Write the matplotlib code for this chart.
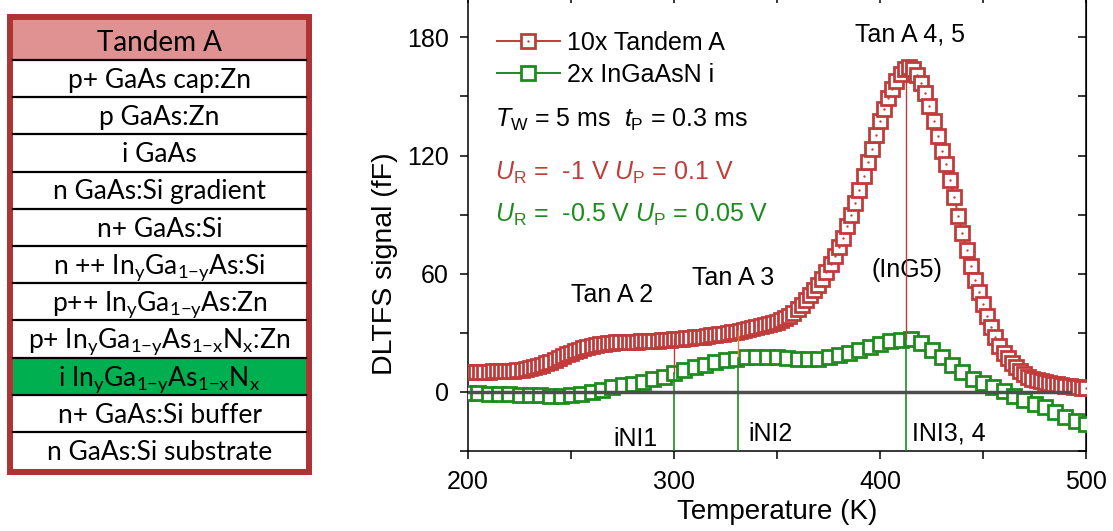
import numpy as np
import matplotlib.pyplot as plt
from matplotlib.lines import Line2D
from matplotlib.patches import Rectangle
from matplotlib.ticker import MultipleLocator

plt.rcParams["font.family"] = ["Liberation Sans", "DejaVu Sans"]
plt.rcParams["mathtext.fontset"] = "custom"
plt.rcParams["mathtext.rm"] = "Liberation Sans"
plt.rcParams["mathtext.it"] = "Liberation Sans:italic"
plt.rcParams["mathtext.bf"] = "Liberation Sans:bold"

RED = "#C23B3B"
GREEN = "#1C8C1C"
BORDER = "#AE3333"

# DLTFS spectra (fF), already scaled by 10x and 2x
temp_tandem = np.arange(200, 501, 2)
dltfs_tandem = np.array([
    10.3, 10.3, 10.3, 10.3, 10.3, 10.3, 10.4, 10.4, 10.5, 10.5,
    10.6, 10.8, 11.0, 11.3, 11.6, 12.0, 12.5, 13.1, 13.8, 14.6,
    15.4, 16.3, 17.2, 18.1, 19.0, 19.9, 20.7, 21.5, 22.2, 22.8,
    23.3, 23.8, 24.2, 24.5, 24.8, 25.0, 25.1, 25.2, 25.3, 25.3,
    25.4, 25.5, 25.6, 25.7, 25.8, 25.9, 26.0, 26.1, 26.3, 26.5,
    26.7, 26.9, 27.1, 27.3, 27.5, 27.7, 27.9, 28.1, 28.4, 28.7,
    29.0, 29.3, 29.6, 29.9, 30.2, 30.6, 31.0, 31.4, 31.8, 32.3,
    32.8, 33.3, 33.8, 34.3, 34.9, 35.5, 36.3, 37.3, 38.5, 40.0,
    42.0, 44.2, 46.5, 49.0, 51.5, 54.5, 57.5, 61.0, 65.0, 69.0,
    73.5, 78.0, 84.0, 90.0, 96.0, 102.5, 109.5, 116.5, 123.5, 130.5,
    137.5, 143.5, 149.0, 154.0, 158.0, 161.5, 164.0, 165.0, 164.0, 161.0,
    157.0, 152.0, 145.0, 137.5, 130.0, 122.5, 115.5, 107.5, 99.0, 89.5,
    80.5, 72.0, 64.0, 57.0, 50.5, 44.5, 38.5, 33.0, 28.0, 23.5,
    20.0, 17.0, 14.7, 12.5, 10.5, 9.0, 7.8, 6.8, 6.0, 5.4,
    4.9, 4.5, 4.1, 3.8, 3.5, 3.2, 2.9, 2.6, 2.4, 2.1,
    2.0,
])

temp_ingaasn = np.arange(200, 501, 5)
dltfs_ingaasn = np.array([
    -0.5, -0.7, -0.9, -1.0, -1.2, -1.4, -1.5, -1.7, -1.9, -2.0,
    -1.8, -1.1, 0.0, 1.2, 2.4, 3.3, 4.1, 5.1, 6.3, 7.8,
    9.4, 11.0, 12.5, 13.8, 15.0, 16.0, 16.9, 17.5, 17.8, 17.8,
    17.6, 17.2, 16.8, 16.6, 16.8, 17.5, 18.6, 19.9, 21.4, 23.0,
    24.5, 25.7, 26.5, 26.8, 25.0, 21.5, 17.5, 13.5, 10.0, 6.8,
    4.3, 2.3, 0.3, -2.0, -4.2, -6.0, -7.8, -10.3, -12.8, -15.0,
    -16.5,
])

# defect levels marked by drop lines (K)
trap_temps = [300, 331, 412.5]
trap_upper_colors = [RED, "#D9822B", RED]

layer_names = [
    "Tandem A",
    "p+ GaAs cap:Zn",
    "p GaAs:Zn",
    "i GaAs",
    "n GaAs:Si gradient",
    "n+ GaAs:Si",
    r"n ++ In$_{\mathdefault{y}}$Ga$_{\mathdefault{1{-}y}}$As:Si",
    r"p++ In$_{\mathdefault{y}}$Ga$_{\mathdefault{1{-}y}}$As:Zn",
    r"p+ In$_{\mathdefault{y}}$Ga$_{\mathdefault{1{-}y}}$As$_{\mathdefault{1{-}x}}$N$_{\mathdefault{x}}$:Zn",
    r"i In$_{\mathdefault{y}}$Ga$_{\mathdefault{1{-}y}}$As$_{\mathdefault{1{-}x}}$N$_{\mathdefault{x}}$",
    "n+ GaAs:Si buffer",
    "n GaAs:Si substrate",
]
layer_fills = ["#E09292"] + ["white"] * 8 + ["#00B050"] + ["white"] * 2

W, H = 1113, 531
fig = plt.figure(figsize=(W / 100, H / 100), dpi=100)

# ---- layer stack sketch ----
panel = fig.add_axes([0, 0, 1, 1])
panel.set_xlim(0, W)
panel.set_ylim(H, 0)
panel.axis("off")
stack_x0, stack_x1 = 13, 306
header_h, row_h = 40, 37.2
y = 20
for i, (name, fill) in enumerate(zip(layer_names, layer_fills)):
    h = header_h if i == 0 else row_h
    panel.add_patch(Rectangle((stack_x0, y), stack_x1 - stack_x0, h,
                              facecolor=fill, edgecolor="none"))
    if i:
        panel.plot([stack_x0, stack_x1], [y, y], color="black", lw=1.6)
    panel.text((stack_x0 + stack_x1) / 2, y + h * (0.77 if i == 0 else 0.75), name,
               ha="center", va="baseline", family="Lato",
               fontsize=20 if i == 0 else 19)
    y += h
panel.add_patch(Rectangle((10, 17), stack_x1 - stack_x0 + 6, y - 17 + 3,
                          fill=False, edgecolor=BORDER, lw=4.3))

# ---- DLTFS spectra ----
ymin, ymax = -30, 201.5
ax = fig.add_axes([468 / W, 80 / H, 618 / W, 456 / H])
ax.set_xlim(200, 500)
ax.set_ylim(ymin, ymax)

ax.plot([200, 492], [0, 0], color="#4D4D4D", lw=2.5, zorder=6)

square = dict(marker="s", markersize=10.6, markeredgewidth=2.0,
              markerfacecolor="white", linestyle="none")
dot = dict(marker="o", markersize=1.7, markeredgewidth=0, linestyle="none")

ax.plot(temp_ingaasn, dltfs_ingaasn, color=GREEN, lw=1.4, zorder=3, **square)

# each Tandem A point drawn as square then dot, so later points hide earlier dots
ax.plot(temp_tandem, dltfs_tandem, color=RED, lw=1.4, zorder=3.9)
for k, (t, v) in enumerate(zip(temp_tandem, dltfs_tandem)):
    z = 4 + k * 1e-4
    ax.plot(t, v, color=RED, zorder=z, **square)
    ax.plot(t, v, color=RED, zorder=z + 5e-5, **dot)

for t, upper_color in zip(trap_temps, trap_upper_colors):
    g = np.interp(t, temp_ingaasn, dltfs_ingaasn)
    r = np.interp(t, temp_tandem, dltfs_tandem)
    ax.plot([t, t], [g, r], color=upper_color, lw=1.0, zorder=5)
    ax.plot([t, t], [ymin, g], color=GREEN, lw=1.2, zorder=5)

tandem_handle = (Line2D([], [], color=RED, lw=1.4, **{**square, "linestyle": "-"}),
                 Line2D([], [], color=RED, **dot))
ingaasn_handle = Line2D([], [], color=GREEN, lw=1.4, **{**square, "linestyle": "-"})
ax.legend([tandem_handle, ingaasn_handle], ["10x Tandem A", "2x InGaAsN i"],
          loc="upper left", bbox_to_anchor=(0.047, 0.922), frameon=False,
          fontsize=18, borderpad=0, borderaxespad=0, handlelength=2.5,
          handletextpad=0.3, labelspacing=0.32)

ax.text(213, 134.5, r"$T_\mathrm{W}$ = 5 ms  $t_\mathrm{P}$ = 0.3 ms",
        fontsize=18, va="baseline")
ax.text(213, 107.6, r"$U_\mathrm{R}$ =  -1 V $U_\mathrm{P}$ = 0.1 V",
        fontsize=18, va="baseline", color=RED)
ax.text(213, 86.4, r"$U_\mathrm{R}$ =  -0.5 V $U_\mathrm{P}$ = 0.05 V",
        fontsize=18, va="baseline", color=GREEN)

ax.text(414.6, 177.8, "Tan A 4, 5", fontsize=18, ha="center", va="baseline")
ax.text(413, 58.5, "(InG5)", fontsize=18, ha="center", va="baseline")
ax.text(270, 45.7, "Tan A 2", fontsize=18, ha="center", va="baseline")
ax.text(328.6, 54.3, "Tan A 3", fontsize=18, ha="center", va="baseline")
ax.text(281.5, -27.4, "iNI1", fontsize=18, ha="center", va="baseline")
ax.text(347, -24.9, "iNI2", fontsize=18, ha="center", va="baseline")
ax.text(415.5, -24.9, "INI3, 4", fontsize=18, ha="left", va="baseline")

ax.set_xlabel("Temperature (K)", fontsize=20)
ax.set_ylabel("DLTFS signal (fF)", fontsize=20.5)
ax.xaxis.set_label_coords(0.5, -0.105)
ax.yaxis.set_label_coords(-0.113, 0.41)

ax.xaxis.set_major_locator(MultipleLocator(100))
ax.xaxis.set_minor_locator(MultipleLocator(50))
ax.yaxis.set_major_locator(MultipleLocator(60))
ax.yaxis.set_minor_locator(MultipleLocator(30))
ax.tick_params(which="both", direction="out", length=6, width=1.1,
               labelsize=18, pad=8)
for spine in ax.spines.values():
    spine.set_linewidth(1.1)

# mirrored axes with inward ticks
top = ax.secondary_xaxis("top")
right = ax.secondary_yaxis("right")
top.xaxis.set_major_locator(MultipleLocator(100))
top.xaxis.set_minor_locator(MultipleLocator(50))
right.yaxis.set_major_locator(MultipleLocator(60))
right.yaxis.set_minor_locator(MultipleLocator(30))
top.tick_params(which="both", direction="in", length=6, width=1.1, labeltop=False)
right.tick_params(which="both", direction="in", length=6, width=1.1, labelright=False)

fig.savefig("out.png", dpi=100)
